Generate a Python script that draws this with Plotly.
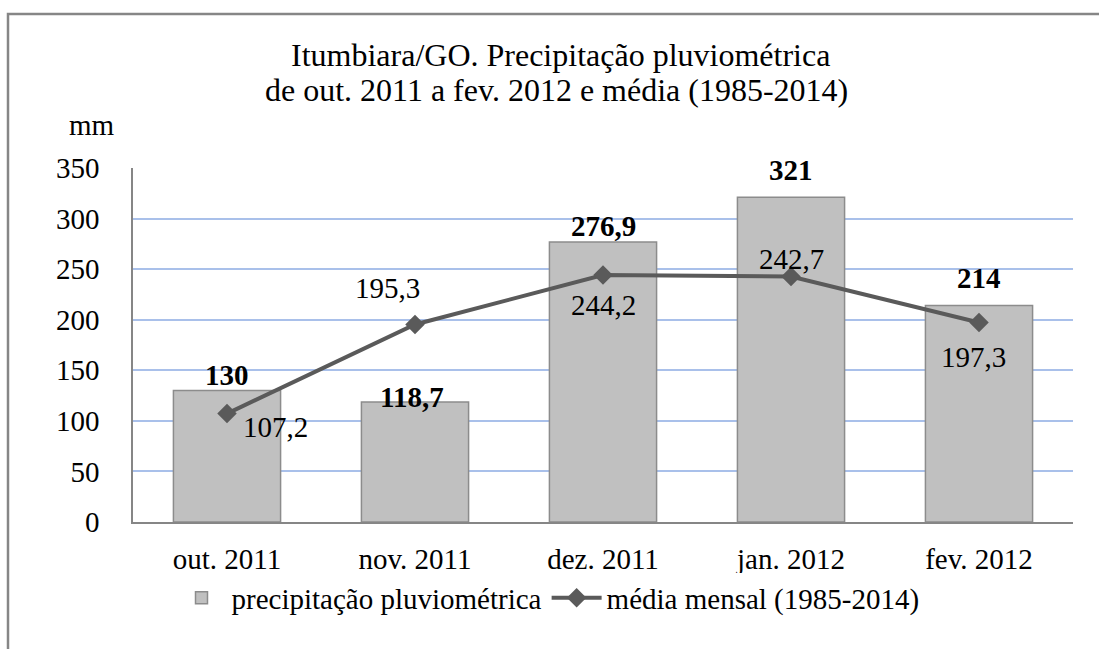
import plotly.graph_objects as go

# Dados
meses = ['out. 2011', 'nov. 2011', 'dez. 2011', 'jan. 2012', 'fev. 2012']
precipitacao = [130, 118.7, 276.9, 321, 214]
media = [107.2, 195.3, 244.2, 242.7, 197.3]
y_ticks = [0, 50, 100, 150, 200, 250, 300, 350]
titulo = ['Itumbiara/GO. Precipitação pluviométrica',
          'de out. 2011 a fev. 2012 e média (1985-2014)']


def fmt(v):
    # vírgula decimal, como no original
    return ('%g' % v).replace('.', ',')


fonte = 'Liberation Serif, Times New Roman, serif'
tam = 29

# área do gráfico em pixels (esq., dir., topo, base)
L, R, T, B = 133, 1073, 168, 522
W, H = 1099, 649


def px_x(x):
    return (x - L) / (R - L)


def px_y(y):
    return (B - y) / (B - T)


fig = go.Figure()
fig.add_trace(go.Bar(
    x=meses, y=precipitacao, name='precipitação pluviométrica',
    marker=dict(color='#c0c0c0', line=dict(color='#8c8c8c', width=1.5)),
    width=0.57,
))
fig.add_trace(go.Scatter(
    x=meses, y=media, name='média mensal (1985-2014)',
    mode='lines+markers',
    line=dict(color='#5a5a5a', width=4),
    marker=dict(symbol='diamond', size=15, color='#5a5a5a'),
))

# deslocamentos dos rótulos (px)
desloc_barras = [(0, 16), (-3, 5), (0, 16), (0, 27), (0, 28)]
desloc_media = [(48, -13), (-28, 36), (0, -30), (0, 18), (-6, -35)]

anotacoes = []
for m, v, (dx, dy) in zip(meses, precipitacao, desloc_barras):
    anotacoes.append(dict(x=m, y=v, text='<b>' + fmt(v) + '</b>', showarrow=False,
                          xshift=dx, yshift=dy,
                          font=dict(family=fonte, size=tam, color='black')))
for m, v, (dx, dy) in zip(meses, media, desloc_media):
    anotacoes.append(dict(x=m, y=v, text=fmt(v), showarrow=False,
                          xshift=dx, yshift=dy,
                          font=dict(family=fonte, size=tam, color='black')))
anotacoes.append(dict(x=px_x(92), y=px_y(125), xref='paper', yref='paper', text='mm',
                      showarrow=False, xanchor='center', yanchor='middle',
                      font=dict(family=fonte, size=tam, color='black')))
# título em duas linhas (espaçamento mais apertado que o padrão)
for texto, (cx, cy) in zip(titulo, [(560, 55), (556, 90)]):
    anotacoes.append(dict(x=px_x(cx), y=px_y(cy), xref='paper', yref='paper', text=texto,
                          showarrow=False, xanchor='center', yanchor='middle',
                          font=dict(family=fonte, size=32, color='black')))

fig.update_layout(
    font=dict(family=fonte, size=tam, color='black'),
    width=W, height=H,
    margin=dict(l=L, r=W - R, t=T, b=H - B),
    plot_bgcolor='white', paper_bgcolor='white',
    xaxis=dict(showline=True, linecolor='#868686', linewidth=2, showgrid=False,
               ticks='', tickfont=dict(family=fonte, size=tam), ticklabelstandoff=10),
    yaxis=dict(range=[0, 350], tickvals=y_ticks, showline=True, linecolor='#868686',
               linewidth=1.5, showgrid=True, gridcolor='#a9c0ea', gridwidth=2,
               zeroline=False, ticks='', ticklabelstandoff=26,
               tickfont=dict(family=fonte, size=tam)),
    legend=dict(orientation='h', x=px_x(548), xanchor='center', y=px_y(598),
                yanchor='middle', font=dict(family=fonte, size=tam), itemwidth=50),
    annotations=anotacoes,
    shapes=[dict(type='rect', xref='paper', yref='paper',
                 x0=px_x(8), x1=px_x(1110), y0=px_y(670), y1=px_y(14),
                 line=dict(color='#868686', width=2.5), layer='below')],
    showlegend=True,
)

fig.write_html('out.html', config={'displayModeBar': False},
               post_script="document.body.style.margin='0';")
